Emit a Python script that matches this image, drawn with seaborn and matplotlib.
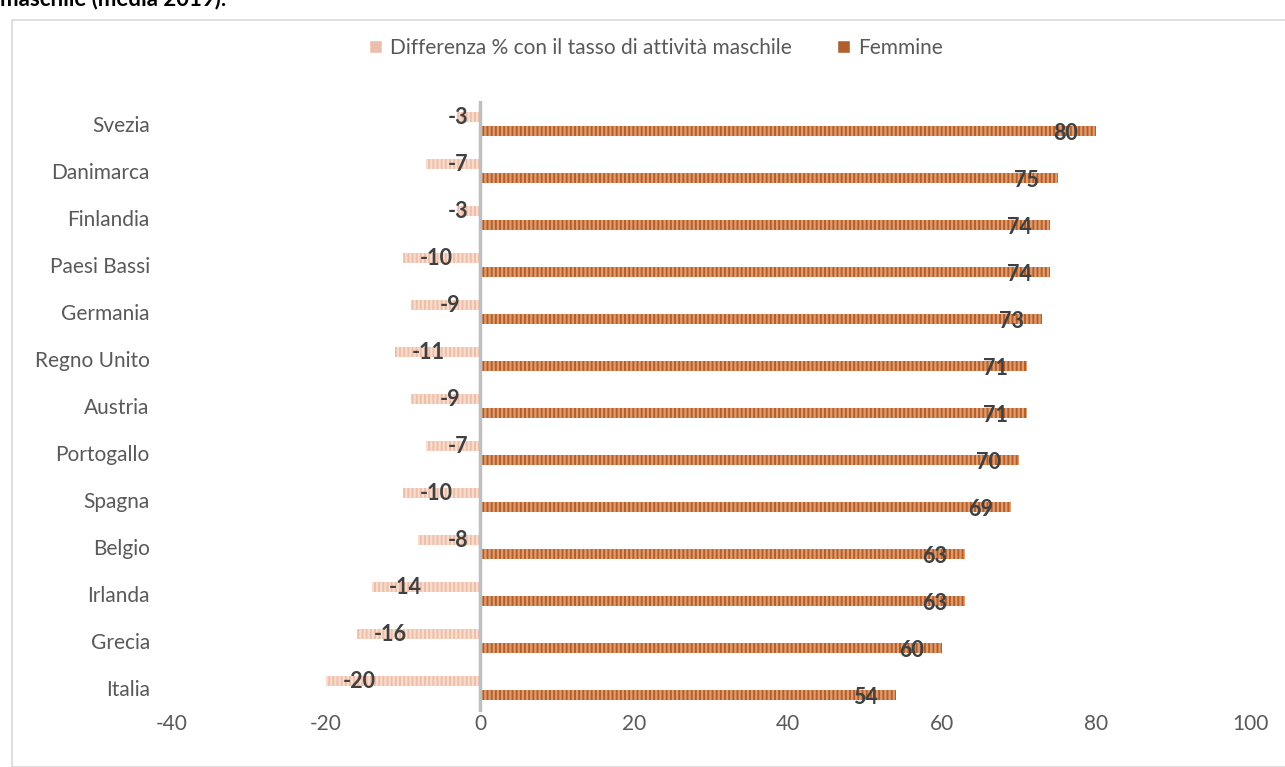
import pandas as pd
import seaborn as sns
import matplotlib.pyplot as plt
from matplotlib.patches import Rectangle

# data
paesi = ["Svezia", "Danimarca", "Finlandia", "Paesi Bassi", "Germania", "Regno Unito",
         "Austria", "Portogallo", "Spagna", "Belgio", "Irlanda", "Grecia", "Italia"]
differenza = [-3, -7, -3, -10, -9, -11, -9, -7, -10, -8, -14, -16, -20]
femmine = [80, 75, 74, 74, 73, 71, 71, 70, 69, 63, 63, 60, 54]

lab_diff = "Differenza % con il tasso di attività maschile"
lab_fem = "Femmine"

df = pd.DataFrame({
    "Paese": paesi * 2,
    "Valore": differenza + femmine,
    "Serie": [lab_diff] * len(paesi) + [lab_fem] * len(paesi),
})

sns.set_style("white")
plt.rcParams['font.family'] = ['Lato', 'DejaVu Sans']
plt.rcParams['hatch.linewidth'] = 1.6
plt.rcParams['axes.unicode_minus'] = False

fig = plt.figure(figsize=(12.85, 7.67), dpi=100)
ax = fig.add_axes([172 / 1285, 1 - 711.5 / 767, (1250 - 172) / 1285, 611 / 767])

colori = {lab_diff: "#F5BBA2", lab_fem: "#C65A17"}
righe = {lab_diff: "#FBDCCB", lab_fem: "#E49C6C"}

sns.barplot(data=df, y="Paese", x="Valore", hue="Serie", hue_order=[lab_diff, lab_fem],
            order=paesi, palette=colori, width=0.6, gap=0.3, orient="h", ax=ax)

for cont, serie in zip(ax.containers, [lab_diff, lab_fem]):
    for p in cont:
        p.set_hatch("||||")
        p.set_edgecolor(righe[serie])
        p.set_linewidth(0)

# value labels
for i, v in enumerate(differenza):
    ax.text(min(v + 6.5, -1.5), i - 0.13, str(v), ha="right", va="center",
            fontsize=15.5, fontweight="bold", color="#404040")
for i, v in enumerate(femmine):
    ax.text(v - 4, i + 0.2, str(v), ha="center", va="center",
            fontsize=15.5, fontweight="bold", color="#404040")

ax.set_xlim(-40, 100)
ax.set_ylim(12.5, -0.5)
ax.set_xticks(range(-40, 101, 20))
ax.axvline(0, color="#BFBFBF", lw=2.5, zorder=5)
for s in ax.spines.values():
    s.set_visible(False)
ax.set_xlabel("")
ax.set_ylabel("")
ax.tick_params(axis="both", length=0, labelsize=15, labelcolor="#595959")
ax.tick_params(axis="y", pad=16)
ax.tick_params(axis="x", pad=2)

handles, labels = ax.get_legend_handles_labels()
ax.get_legend().remove()
fig.legend(handles, labels, loc="center", bbox_to_anchor=(656 / 1285, 1 - 48 / 767),
           ncol=2, frameon=False, fontsize=15, labelcolor="#595959",
           handlelength=0.6, handleheight=0.6, handletextpad=0.4, columnspacing=2.2)

# outer chart border and clipped title from the page
fig.patches.append(Rectangle((12 / 1285, 0), 1.0, 1 - 20 / 767, transform=fig.transFigure,
                             fill=False, edgecolor="#D9D9D9", lw=1.2))
fig.text(0.0, 1 + 1 / 767, "maschile (media 2019).", ha="left", va="center",
         fontsize=16, fontweight="bold", color="black")

fig.savefig("out.png", dpi=100)
